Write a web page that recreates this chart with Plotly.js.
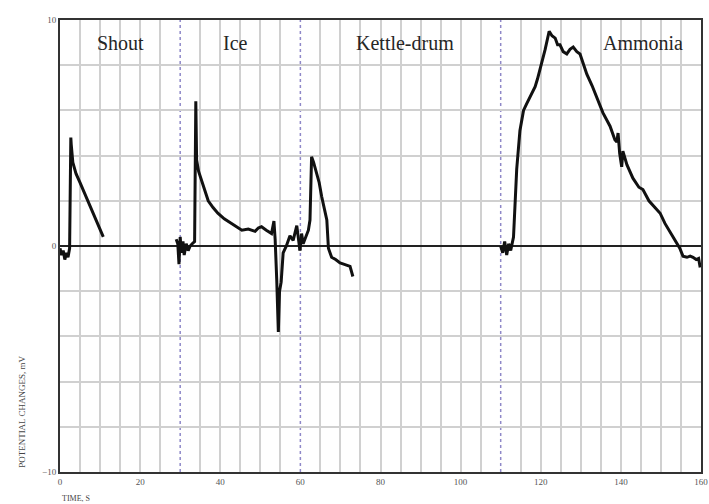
<!DOCTYPE html>
<html>
<head>
<meta charset="utf-8">
<script src="https://cdn.plot.ly/plotly-3.0.1.min.js"></script>
<style>html,body{margin:0;padding:0;background:#fff;}#chart{width:709px;height:504px;}</style>
</head>
<body>
<div id="chart"></div>
<script>
// Shout response
const shoutX = [0, 0.4, 0.8, 1.2, 1.6, 2.0, 2.4, 2.7, 2.8, 3.2, 4.0, 5.0, 5.5, 6.5, 7.5, 8.0, 9.0, 9.6, 10.2, 10.8];
const shoutY = [-0.1, -0.4, -0.2, -0.6, -0.3, -0.5, -0.1, 4.8, 4.5, 3.7, 3.2, 2.8, 2.6, 2.2, 1.8, 1.6, 1.2, 0.9, 0.7, 0.4];
// Ice response
const iceX = [29.0, 29.4, 29.7, 30.0, 30.3, 30.7, 31.0, 31.5, 32.0, 32.5, 33.0, 33.6, 33.9, 34.1, 34.6, 35.4, 36.2, 37.0, 38.2, 39.4, 41.0, 42.9, 44.2, 45.4, 47.0, 48.7, 49.5, 50.3, 51.5, 52.8, 53.4, 53.7, 54.1, 54.5, 54.8, 55.2, 55.7, 56.5, 57.4, 58.2, 59.1, 59.9];
const iceY = [0.3, 0.1, -0.8, 0.4, -0.3, 0.2, -0.4, 0.1, -0.2, 0.0, 0.1, 0.2, 6.4, 3.8, 3.3, 2.9, 2.4, 2.0, 1.7, 1.45, 1.2, 1.0, 0.85, 0.7, 0.75, 0.65, 0.8, 0.85, 0.7, 0.55, 1.1, 0.3, -1.5, -3.8, -2.0, -1.6, -0.3, 0.0, 0.45, 0.25, 0.9, -0.2];
// Kettle-drum response
const kettleX = [59.9, 60.3, 60.7, 61.2, 61.6, 62.0, 62.4, 62.8, 63.3, 64.1, 64.7, 65.3, 66.0, 66.6, 67.0, 67.4, 67.8, 68.8, 69.9, 70.8, 71.6, 72.4, 73.1];
const kettleY = [-0.2, 0.55, 0.1, 0.3, 0.5, 0.7, 1.15, 3.95, 3.7, 3.2, 2.8, 2.2, 1.6, 1.15, -0.1, -0.3, -0.5, -0.6, -0.75, -0.8, -0.85, -0.9, -1.35];
// Ammonia response
const ammoniaX = [110.0, 110.5, 111.0, 111.5, 112.0, 112.5, 113.2, 114.0, 114.8, 115.7, 116.5, 117.3, 118.0, 118.6, 119.2, 119.8, 120.5, 121.1, 122.1, 122.8, 123.6, 124.2, 124.8, 125.6, 126.5, 127.3, 128.1, 129.0, 129.8, 130.6, 131.5, 132.8, 134.0, 135.5, 137.3, 138.5, 139.0, 139.3, 139.7, 140.2, 140.5, 141.5, 143.0, 144.5, 145.5, 147.0, 148.5, 149.8, 151.0, 152.5, 153.9, 154.7, 155.5, 156.5, 157.3, 158.0, 158.8, 159.4, 159.8];
const ammoniaY = [0.0, -0.3, 0.2, -0.4, 0.1, -0.2, 0.4, 3.4, 5.1, 6.0, 6.3, 6.6, 6.8, 7.05, 7.4, 7.8, 8.2, 8.7, 9.5, 9.3, 9.2, 8.9, 8.9, 8.6, 8.5, 8.7, 8.8, 8.6, 8.5, 8.1, 7.6, 7.1, 6.6, 5.9, 5.3, 4.7, 4.6, 5.0, 4.1, 3.5, 4.2, 3.6, 3.0, 2.6, 2.5, 2.0, 1.7, 1.45, 1.0, 0.55, 0.1, -0.1, -0.45, -0.5, -0.45, -0.5, -0.6, -0.55, -0.95];

const stimulusTimes = [30, 60, 110];
const stimulusLabels = ["Shout", "Ice", "Kettle-drum", "Ammonia"];
const labelX = [15.2, 43.8, 86, 145.5];
const labelY = 9;
const xTickVals = [0, 20, 40, 60, 80, 100, 120, 140, 160];
const yTickVals = [-10, 0, 10];

const serif = "Liberation Serif, Times New Roman, serif";
const lineStyle = {color: "#111", width: 3};

const traces = [
  {x: shoutX, y: shoutY, name: "Shout"},
  {x: iceX, y: iceY, name: "Ice"},
  {x: kettleX, y: kettleY, name: "Kettle-drum"},
  {x: ammoniaX, y: ammoniaY, name: "Ammonia"}
].map(t => Object.assign(t, {type: "scatter", mode: "lines", line: lineStyle, hoverinfo: "skip"}));

const gridX = [];
for (let v = 0; v <= 160; v += 5) if (!stimulusTimes.includes(v)) gridX.push(v);
const gridY = [];
for (let v = -10; v <= 10; v += 2) gridY.push(v);

const annotations = stimulusLabels.map((t, i) => ({
  text: t, x: labelX[i], y: labelY, xref: "x", yref: "y", showarrow: false,
  font: {family: serif, size: 20, color: "#262626"}
}));
annotations.push({
  text: "POTENTIAL CHANGES, mV", textangle: -90, xref: "paper", yref: "paper",
  x: -0.07, y: 0.005, yanchor: "bottom", showarrow: false, font: {family: serif, size: 9, color: "#444"}
});
annotations.push({
  text: "TIME, S", xref: "paper", yref: "paper", x: 0, y: -0.045, xanchor: "left", yanchor: "top",
  showarrow: false, font: {family: serif, size: 8, color: "#444"}
});

const shapes = stimulusTimes.map(t => ({
  type: "line", xref: "x", yref: "paper", x0: t, x1: t, y0: 0, y1: 1,
  layer: "between", line: {color: "#8f88c8", width: 1.5, dash: "dot"}
}));

const layout = {
  width: 709, height: 504,
  margin: {l: 60, r: 8, t: 20, b: 32},
  paper_bgcolor: "#fff", plot_bgcolor: "#fff",
  showlegend: false,
  xaxis: {
    range: [0, 160], tickvals: xTickVals, ticks: "", showgrid: false, zeroline: false,
    showline: true, mirror: true, linecolor: "#333", linewidth: 2,
    tickfont: {family: serif, size: 9, color: "#555"},
    minor: {tickmode: "array", tickvals: gridX, showgrid: true, gridcolor: "#d0d0d0", gridwidth: 2, ticks: ""}
  },
  yaxis: {
    range: [-10, 10], tickvals: yTickVals, ticks: "", showgrid: false,
    zeroline: true, zerolinecolor: "#222", zerolinewidth: 1.5,
    showline: true, mirror: true, linecolor: "#333", linewidth: 2,
    tickfont: {family: serif, size: 9, color: "#555"},
    minor: {tickmode: "array", tickvals: gridY, showgrid: true, gridcolor: "#d0d0d0", gridwidth: 2, ticks: ""}
  },
  annotations: annotations,
  shapes: shapes
};

Plotly.newPlot("chart", traces, layout, {displayModeBar: false, staticPlot: true});
</script>
</body>
</html>
